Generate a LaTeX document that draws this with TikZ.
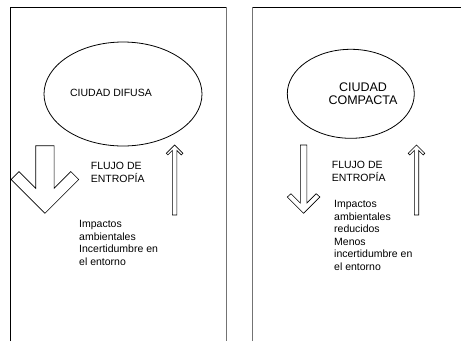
\documentclass[tikz,border=0pt]{standalone}
\usepackage{fontspec}
\setmainfont{Liberation Sans}
\usetikzlibrary{shapes.geometric}

\tikzset{
  frame/.style={line width=0.9pt, black},
  frameside/.style={line width=1pt, black!55},
  city/.style={draw, ellipse, line width=0.8pt, inner sep=0pt},
  flow/.style={draw, line width=0.6pt, line join=miter},
  txt/.style={inner sep=0pt, align=left, anchor=north west,
    font=\fontsize{10.5}{12.5}\selectfont},
  caption/.style={inner sep=0pt, font=\fontsize{10.5}{12.5}\selectfont}
}

\begin{document}
\begin{tikzpicture}[x=1pt, y=-1pt]
\useasboundingbox (0,0) rectangle (461,341);

% left panel
\draw[frame] (10.5,341) -- (10.5,7) -- (227,7);
\draw[frameside] (226.7,7) -- (226.7,341);
% right panel
\draw[frameside] (252.7,341) -- (252.7,7);
\draw[frame] (252.7,7) -- (461,7);

% sprawling city
\node[city, minimum width=158pt, minimum height=104pt] (difusa) at (123,94) {};
\node[caption, anchor=base] (difusatxt) at (111,96.8) {CIUDAD DIFUSA};

\draw[flow] (35.7,145.7) -- (54.1,145.7) -- (54.1,188.3) -- (70.8,171.6)
  -- (78.7,179.5) -- (44.9,213.3) -- (11.1,179.5) -- (19,171.6)
  -- (35.7,188.3) -- cycle;
\draw[flow] (172.4,215) -- (176.8,215) -- (176.8,150.4) -- (181.3,154.9)
  -- (182.9,153.3) -- (174.6,145) -- (166.3,153.3) -- (167.9,154.9)
  -- (172.4,150.4) -- cycle;

\node[txt, font=\fontsize{10.5}{13.2}\selectfont] (flujoL) at (90.7,162.2) {FLUJO DE\\ENTROPÍA};
\node[txt] (impL) at (79,220.5) {Impactos\\ambientales\\Incertidumbre en\\el entorno};

% compact city
\node[city, minimum width=127pt, minimum height=89pt] (compacta) at (350.8,93.8) {};
\node[inner sep=0pt, align=center, anchor=north,
  font=\fontsize{12.5}{13}\selectfont] (compactatxt) at (363,82.7) {CIUDAD\\COMPACTA};

\draw[flow] (300.3,145) -- (306.9,145) -- (306.9,203) -- (316.2,193.7)
  -- (319.9,197) -- (303.6,213.3) -- (287.3,197) -- (291,193.7)
  -- (300.3,203) -- cycle;
\draw[flow] (414.3,215) -- (418.7,215) -- (418.7,150.4) -- (423.2,154.9)
  -- (424.8,153.3) -- (416.5,145) -- (408.2,153.3) -- (409.8,154.9)
  -- (414.3,150.4) -- cycle;

\node[txt, font=\fontsize{10.5}{13.2}\selectfont] (flujoR) at (331.7,160.5) {FLUJO DE\\ENTROPÍA};
\node[txt] (impR) at (334,200.3) {Impactos\\ambientales\\reducidos\\Menos\\incertidumbre en\\el entorno};
\end{tikzpicture}
\end{document}
